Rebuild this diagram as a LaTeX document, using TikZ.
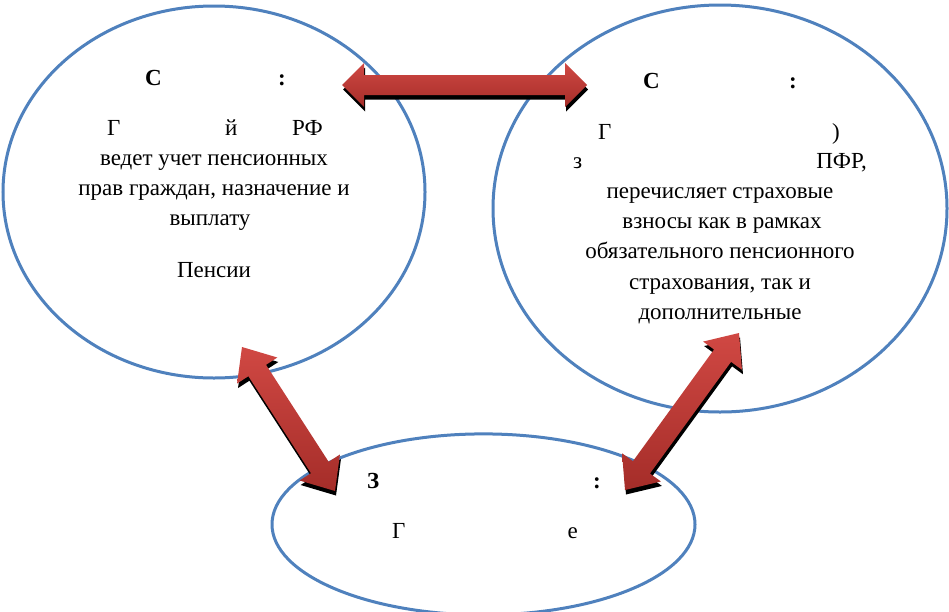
\documentclass[tikz,border=0pt]{standalone}
\usepackage{fontspec}
\setmainfont{Liberation Serif}
\usetikzlibrary{calc,shapes.geometric,shadows}
\definecolor{ellblue}{HTML}{4F81BD}
\definecolor{arrlight}{HTML}{D04843}
\definecolor{arrdark}{HTML}{A52D29}
\newcommand{\dblarr}[5]{%
  \coordinate (p1) at ($(#1)!#3!(#2)$);
  \coordinate (p2) at ($(#2)!#3!(#1)$);
  \path[arr] (#1) -- ($(p1)!#4!90:(#2)$) -- ($(p1)!#5!90:(#2)$)
    -- ($(p2)!#5!-90:(#1)$) -- ($(p2)!#4!-90:(#1)$) -- (#2)
    -- ($(p2)!#4!90:(#1)$) -- ($(p2)!#5!90:(#1)$)
    -- ($(p1)!#5!-90:(#2)$) -- ($(p1)!#4!-90:(#2)$) -- cycle;
}
\begin{document}
\begin{tikzpicture}[x=1pt,y=-1pt,
  ell/.style={ellipse, draw=ellblue, line width=3pt, inner sep=0pt},
  txt/.style={inner sep=0pt, font=\fontsize{23}{30}\selectfont},
  ttl/.style={inner sep=0pt, font=\fontsize{23}{30}\selectfont\bfseries},
  arr/.style={top color=arrlight, bottom color=arrdark,
    drop shadow={shadow xshift=1pt, shadow yshift=-4.5pt, opacity=1, fill=black}}
]
\useasboundingbox[fill=white] (0,0) rectangle (949,611);

% ellipses
\node[ell, minimum width=422pt, minimum height=372pt] (left) at (214,192) {};
\node[ell, minimum width=454pt, minimum height=407pt] (right) at (720,208.5) {};
\node[ell, minimum width=423pt, minimum height=181pt] (bottom) at (483.5,524.4) {};

% arrow tips
\coordinate (ta) at (342,85);
\coordinate (tb) at (587,85);
\coordinate (la) at (242,347);
\coordinate (lb) at (335,491);
\coordinate (ra) at (625,490);
\coordinate (rb) at (739,333);

\dblarr{ta}{tb}{22pt}{22pt}{10pt}
\dblarr{la}{lb}{28pt}{24pt}{10.5pt}
\dblarr{ra}{rb}{28pt}{24pt}{10.5pt}

% left texts
\node[ttl, anchor=base west] (l0a) at (145,85) {С};
\node[ttl, anchor=base] (l0b) at (282,85) {:};
\node[txt, anchor=base west] (l1a) at (107,135) {Г};
\node[txt, anchor=base west] (l1b) at (225,135) {й};
\node[txt, anchor=base east] (l1c) at (323,135) {РФ};
\node[txt, anchor=base] (l2) at (214,165) {ведет учет пенсионных};
\node[txt, anchor=base] (l3) at (214,195) {прав граждан, назначение и};
\node[txt, anchor=base] (l4) at (210,225) {выплату};
\node[txt, anchor=base] (l5) at (214,277) {Пенсии};

% right texts
\node[ttl, anchor=base west] (r0a) at (643,88) {С};
\node[ttl, anchor=base] (r0b) at (793,88) {:};
\node[txt, anchor=base west] (r1a) at (598,139) {Г};
\node[txt, anchor=base east] (r1b) at (840,139) {)};
\node[txt, anchor=base west] (r2a) at (573,168) {з};
\node[txt, anchor=base east] (r2b) at (867,168) {ПФР,};
\node[txt, anchor=base] (r3) at (720,198) {перечисляет страховые};
\node[txt, anchor=base] (r4) at (722,228) {взносы как в рамках};
\node[txt, anchor=base] (r5) at (720,258) {обязательного пенсионного};
\node[txt, anchor=base] (r6) at (720,289) {страхования, так и};
\node[txt, anchor=base] (r7) at (720,319) {дополнительные};

% bottom texts
\node[ttl, anchor=base west] (b0a) at (367,488) {З};
\node[ttl, anchor=base] (b0b) at (597,488) {:};
\node[txt, anchor=base west] (b1a) at (392,538) {Г};
\node[txt, anchor=base east] (b1b) at (578,538) {е};
\end{tikzpicture}
\end{document}
